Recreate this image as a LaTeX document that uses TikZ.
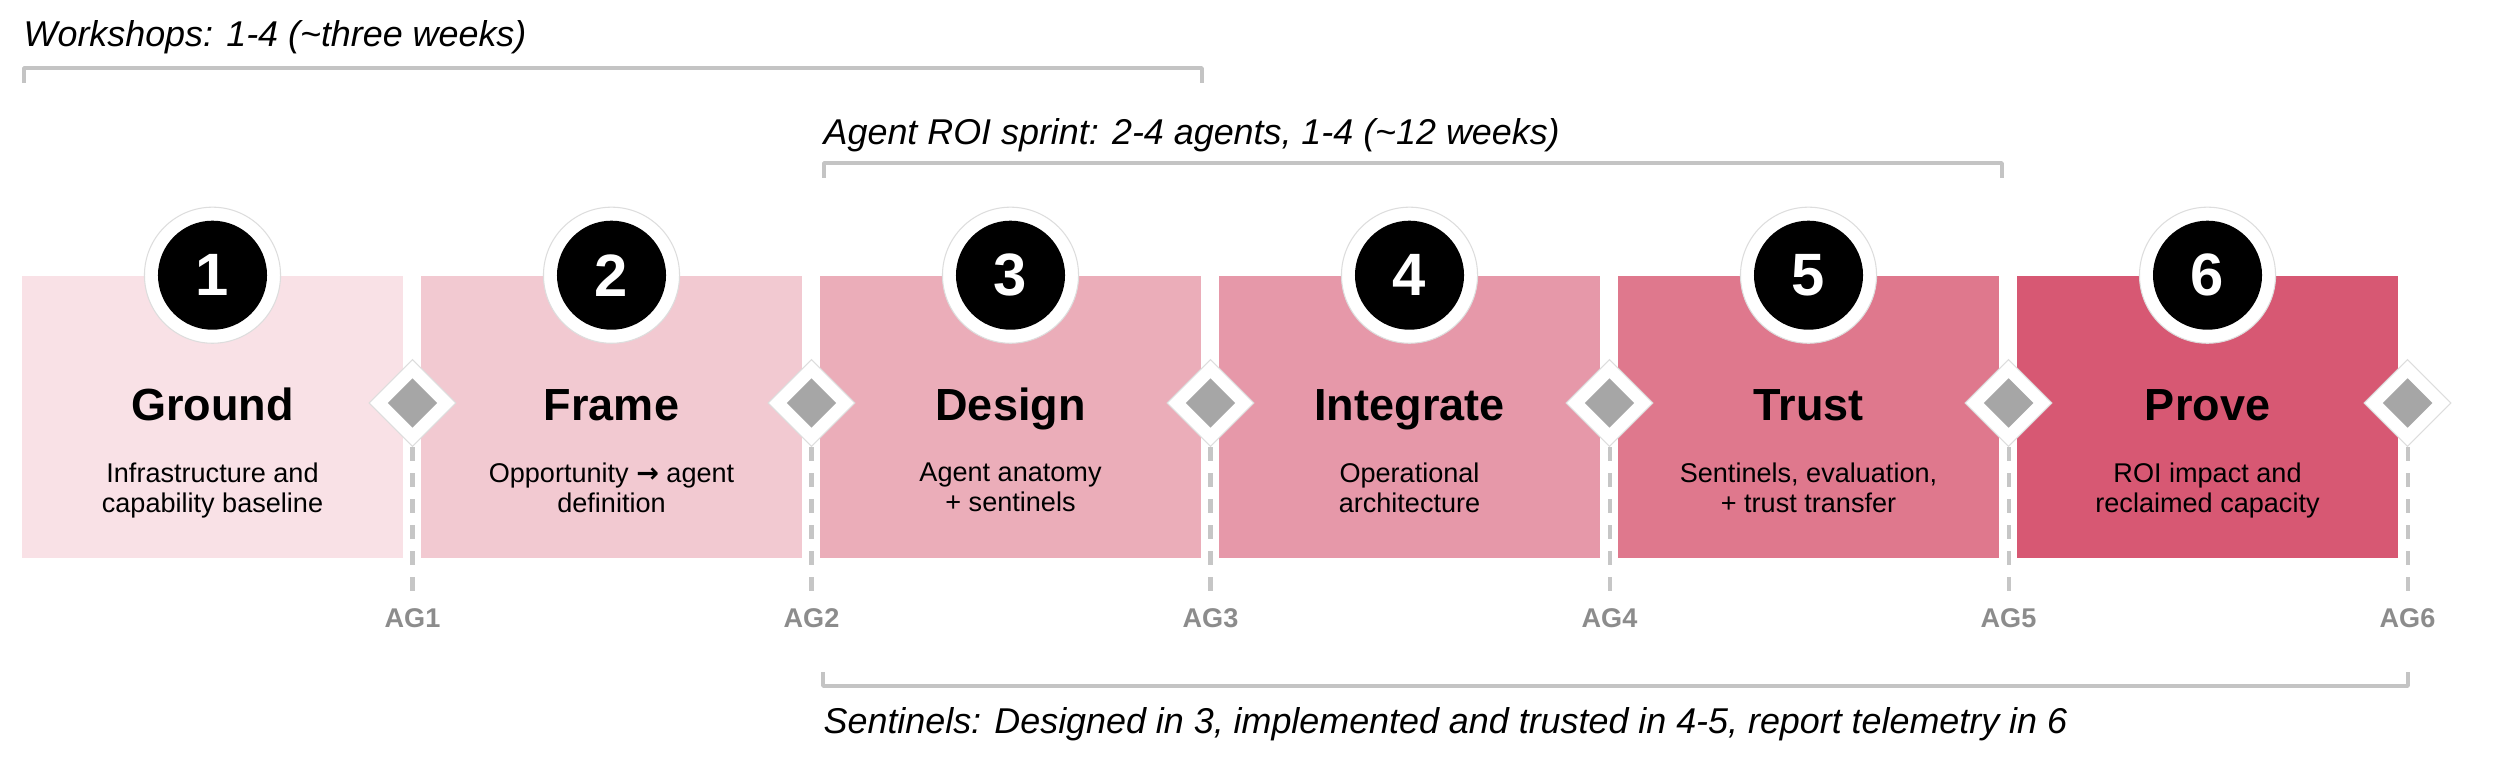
\documentclass[tikz,border=0pt]{standalone}
\usepackage{fontspec}
\setmainfont{Liberation Sans}
\newfontfamily\arrowfont{DejaVu Sans}
\usetikzlibrary{shapes.geometric,calc}
\definecolor{c1}{HTML}{F9E1E6}
\definecolor{c2}{HTML}{F2C9D1}
\definecolor{c3}{HTML}{EBADB9}
\definecolor{c4}{HTML}{E698A9}
\definecolor{c5}{HTML}{DF788D}
\definecolor{c6}{HTML}{D75873}
\definecolor{gdia}{HTML}{A6A6A6}
\definecolor{aggray}{HTML}{8C8C8C}
\definecolor{brk}{HTML}{C4C4C4}
\definecolor{dsh}{HTML}{C6C6C6}
\definecolor{faint}{HTML}{DDDDDD}
\begin{document}
\begin{tikzpicture}[x=0.01cm,y=-0.01cm,
  stagebox/.style={rectangle, minimum width=3.81cm, minimum height=2.82cm, inner sep=0pt, draw=none},
  ring/.style={circle, fill=white, draw=faint, line width=0.3pt, minimum size=1.36cm, inner sep=0pt},
  numdot/.style={circle, fill=black, minimum size=1.09cm, inner sep=0pt, text=white, font=\fontsize{17}{20}\selectfont\bfseries},
  gatew/.style={diamond, fill=white, draw=faint, line width=0.3pt, minimum width=0.87cm, minimum height=0.87cm, inner sep=0pt},
  gateg/.style={diamond, fill=gdia, minimum width=0.5cm, minimum height=0.5cm, inner sep=0pt},
  ttl/.style={font=\fontsize{12.8}{15}\selectfont\bfseries, anchor=base, inner sep=0pt},
  sub/.style={font=\fontsize{7.7}{8.54}\selectfont, align=center, anchor=north, inner sep=0pt},
  aglbl/.style={font=\fontsize{7.7}{9}\selectfont\bfseries, text=aggray, anchor=base, inner sep=0pt},
  ital/.style={font=\fontsize{10.2}{12}\selectfont\itshape, anchor=base west, inner sep=0pt},
  bracket/.style={draw=brk, line width=1pt, line join=round},
  dashln/.style={draw=dsh, line width=1.15pt, dash pattern=on 4pt off 3.4pt, shorten >=0.15cm}
]
\useasboundingbox (0,0) rectangle (2500,770);
\fill[white] (0,0) rectangle (2500,770);

% stages
\foreach \i/\col/\ttext/\stext in {
  1/c1/Ground/{Infrastructure and\\capability baseline},
  2/c2/Frame/{Opportunity {\arrowfont\bfseries →} agent\\definition},
  3/c3/Design/{Agent anatomy\\+ sentinels},
  4/c4/Integrate/{Operational\\architecture},
  5/c5/Trust/{Sentinels, evaluation,\\+ trust transfer},
  6/c6/Prove/{ROI impact and\\reclaimed capacity}} {
  \pgfmathsetmacro\xc{212.5+399*(\i-1)}
  \node[stagebox, fill=\col] (b\i) at (\xc,417) {};
  \node[ring] (r\i) at (b\i.north) {};
  \node[numdot] (n\i) at (b\i.north) {\i};
  \node[ttl] (t\i) at (\xc,420) {\ttext};
  \node[sub] (s\i) at (\xc,462) {\stext};
}

% gates
\foreach \i in {1,...,6} {
  \pgfmathsetmacro\xd{412.5+399*(\i-1)}
  \node[aglbl] (ag\i) at (\xd,627) {AG\i};
  \node[gatew] (gw\i) at (\xd,403) {};
  \node[gateg] (gg\i) at (\xd,403) {};
  \draw[dashln] (gw\i.south) -- (ag\i.north);
}

% brackets
\coordinate (wl) at (24,83);
\coordinate (wr) at (1202,83);
\draw[bracket] (wl) -- ++(0,-15) -| (wr);
\node[ital] (wtxt) at (23,47) {Workshops: 1-4 (\textasciitilde three weeks)};

\coordinate (al) at (824,178);
\coordinate (ar) at (2002,178);
\draw[bracket] (al) -- ++(0,-15) -| (ar);
\node[ital] (atxt) at (823,145) {Agent ROI sprint: 2-4 agents, 1-4 (\textasciitilde 12 weeks)};

\coordinate (sl) at (823,672);
\coordinate (sr) at (2408,672);
\draw[bracket] (sl) -- ++(0,14) -| (sr);
\node[ital] (stxt) at (823,733) {Sentinels: Designed in 3, implemented and trusted in 4-5, report telemetry in 6};
\end{tikzpicture}
\end{document}
